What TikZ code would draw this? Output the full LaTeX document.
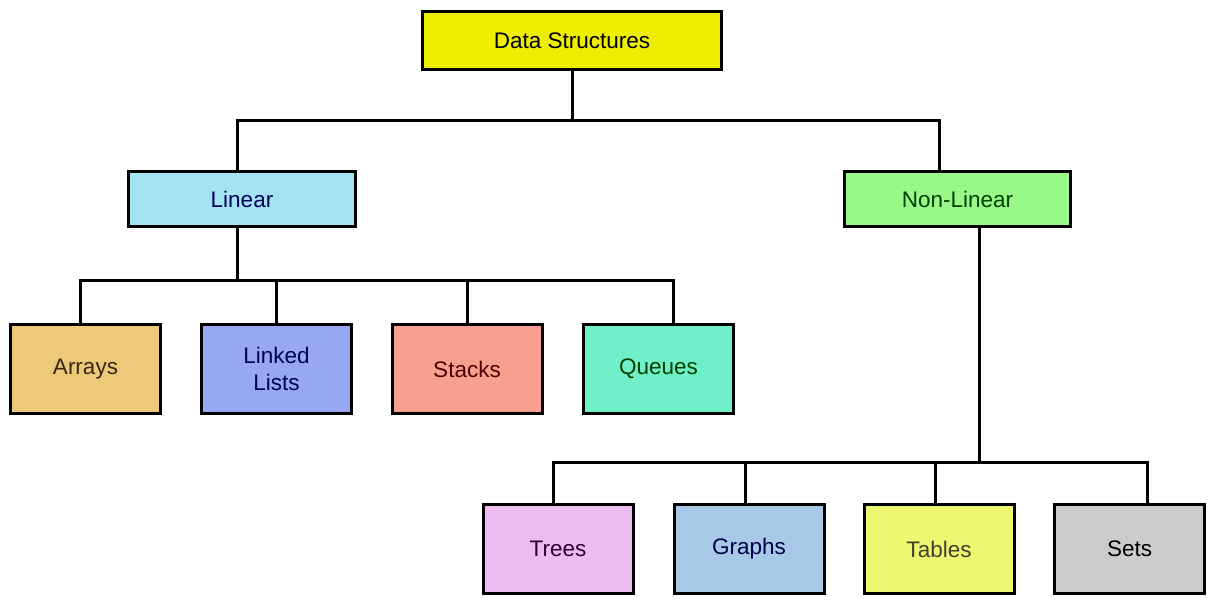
\documentclass[tikz,border=0pt]{standalone}
\usepackage{fontspec}
\setmainfont{Liberation Sans}
\begin{document}
\begin{tikzpicture}[x=1pt,y=-1pt,
  box/.style={draw=black,line width=3pt,rectangle,inner sep=0pt,align=center,
    font=\fontsize{22.5}{27}\selectfont},
  conn/.style={draw=black,line width=3pt},
]
\definecolor{cDS}{HTML}{EEEE00}
\definecolor{cLin}{HTML}{A4E4F2}
\definecolor{cNL}{HTML}{98F888}
\definecolor{cArr}{HTML}{EDC97A}
\definecolor{cLL}{HTML}{98A8F0}
\definecolor{cSt}{HTML}{F8A090}
\definecolor{cQu}{HTML}{70F0C8}
\definecolor{cTr}{HTML}{ECBCF0}
\definecolor{cGr}{HTML}{A8C8E8}
\definecolor{cTa}{HTML}{ECF870}
\definecolor{cSe}{HTML}{CCCCCC}
\fill[white] (0,0) rectangle (1215,603);
\useasboundingbox (0,0) rectangle (1215,603);

\node[box,fill=cDS,minimum width=299pt,minimum height=58pt,text=black] (ds) at (572,40.5) {Data Structures};
\node[box,fill=cLin,minimum width=227pt,minimum height=55pt,text=blue!35!black] (lin) at (242,199) {Linear};
\node[box,fill=cNL,minimum width=226pt,minimum height=55pt,text=green!25!black] (nl) at (957.5,199) {Non-Linear};

\tikzset{leaf/.style={box,minimum width=150pt,minimum height=89pt}}
\node[leaf,fill=cArr,text=brown!30!black] (arr) at (85.5,369) {Arrays};
\node[leaf,fill=cLL,text=blue!35!black] (ll) at (276.5,369) {Linked\\Lists};
\node[leaf,fill=cSt,text=red!30!black] (st) at (467,369) {Stacks};
\node[leaf,fill=cQu,text=green!25!black] (qu) at (658.5,369) {Queues};

\node[leaf,fill=cTr,text=violet!35!black] (tr) at (558,549) {Trees};
\node[leaf,fill=cGr,text=blue!30!black] (gr) at (749,549) {Graphs};
\node[leaf,fill=cTa,text=olive!30!black] (ta) at (939,549) {Tables};
\node[leaf,fill=cSe,text=black] (se) at (1129.5,549) {Sets};

% level 1
\draw[conn] (ds.south) -- ++(0,49);
\draw[conn] ([xshift=-5pt]lin.north) -- ++(0,-50) -| ([xshift=-18.5pt]nl.north);

% linear children
\draw[conn] ([xshift=-5pt]lin.south) -- ++(0,52);
\draw[conn] ([xshift=-5.5pt]arr.north) -- ++(0,-43) -| ([xshift=14.5pt]qu.north);
\draw[conn] (ll.north) -- ++(0,-43);
\draw[conn] (st.north) -- ++(0,-43);

% non-linear children
\draw[conn] ([xshift=21.5pt]nl.south) -- ++(0,234);
\draw[conn] ([xshift=-5pt]tr.north) -- ++(0,-41) -| ([xshift=17.5pt]se.north);
\draw[conn] ([xshift=-4pt]gr.north) -- ++(0,-41);
\draw[conn] ([xshift=-4pt]ta.north) -- ++(0,-41);
\end{tikzpicture}
\end{document}
